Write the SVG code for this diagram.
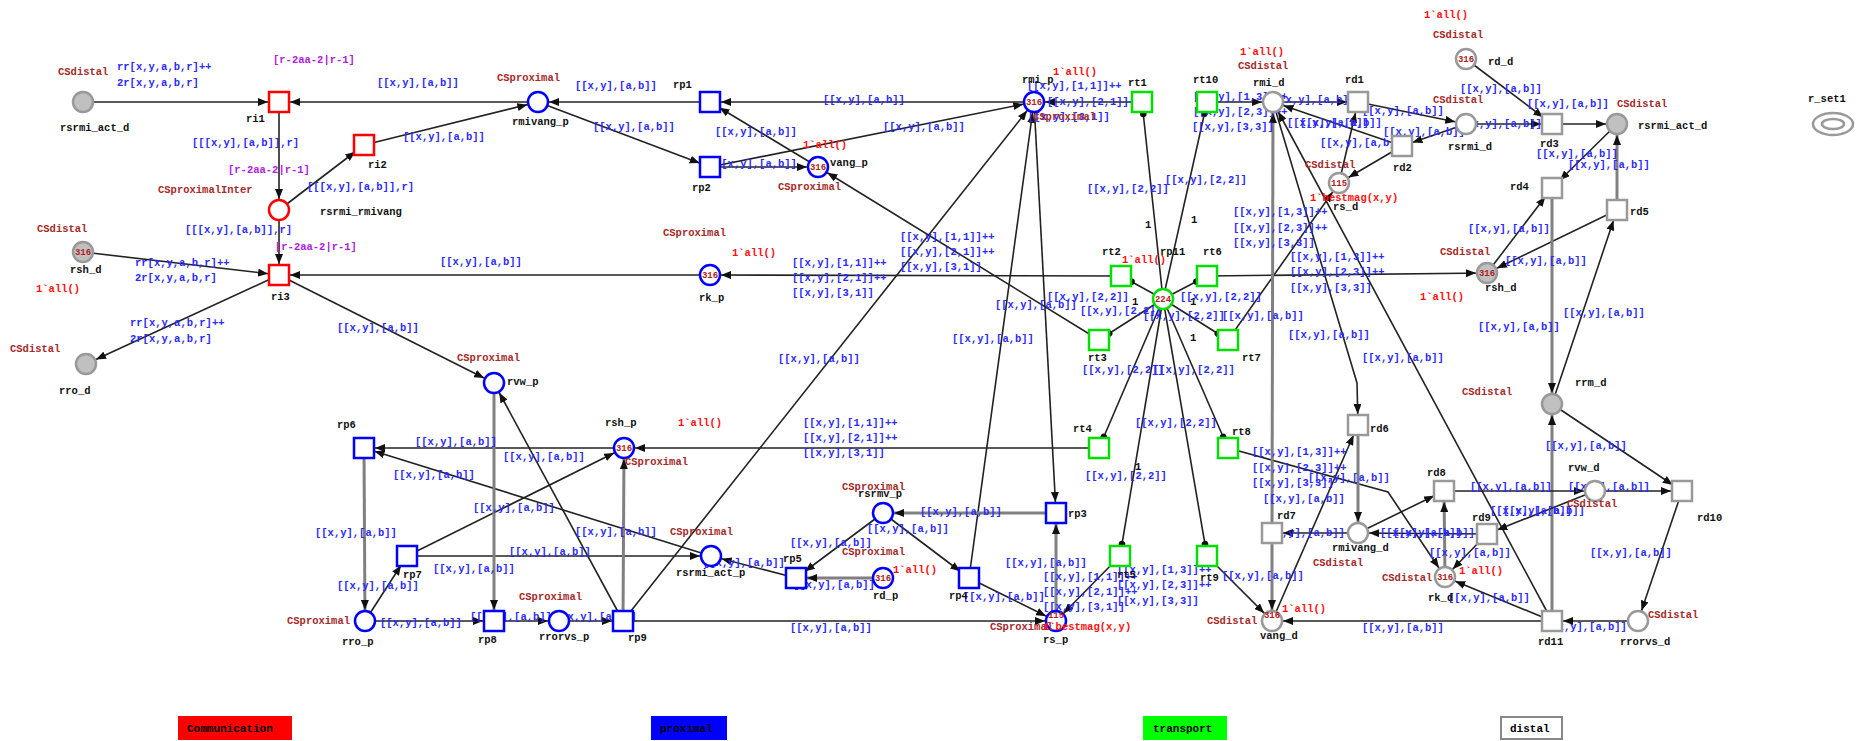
<svg xmlns="http://www.w3.org/2000/svg" width="1862" height="741" viewBox="0 0 1862 741">
<style>
text{font-family:"Liberation Mono","DejaVu Sans Mono",monospace;font-size:10.5px;font-weight:bold}
.n{fill:#111}.i{fill:#2a2aff}.c{fill:#a52a2a}.m{fill:#ff1010}.g{fill:#b020e0}
.k{fill:#b02020;font-size:9px;text-anchor:middle}
.e{stroke:#222;stroke-width:1.6;fill:none;marker-end:url(#a)}
.w{stroke:#808080;stroke-width:3;fill:none;marker-end:url(#a)}
.t{stroke:#222;stroke-width:1.6;fill:none;marker-end:url(#d)}
.pr{fill:#fff;stroke:#ff0000;stroke-width:2.5}
.pb{fill:#fff;stroke:#0000ff;stroke-width:2.5}
.pg{fill:#fff;stroke:#00e000;stroke-width:2.5}
.pd{fill:#fff;stroke:#999;stroke-width:2.5}
.pf{fill:#c0c0c0;stroke:#999;stroke-width:2.5}
.lg{font-size:11px;fill:#000}
</style>
<defs>
<marker id="a" viewBox="0 0 10 8" markerWidth="10" markerHeight="8" refX="21" refY="4" orient="auto" markerUnits="userSpaceOnUse"><path d="M0,0L10,4L0,8z" fill="#111"/></marker>
<marker id="d" viewBox="0 0 8 8" markerWidth="8" markerHeight="8" refX="16" refY="4" orient="auto" markerUnits="userSpaceOnUse"><circle cx="4" cy="4" r="3.3" fill="#111"/></marker>
</defs>
<rect width="1862" height="741" fill="#fff"/>
<g id="connectors">
<path class="e" d="M83,102L279,102"/>
<path class="e" d="M538,102L279,102"/>
<path class="e" d="M279,102L279,210"/>
<path class="e" d="M279,210L364,145"/>
<path class="e" d="M364,145L538,102"/>
<path class="e" d="M279,210L279,275"/>
<path class="e" d="M83,252L279,275"/>
<path class="e" d="M279,275L86,364"/>
<path class="e" d="M710,275L279,275"/>
<path class="e" d="M279,275L494,383"/>
<path class="e" d="M710,102L538,102"/>
<path class="e" d="M1034,102L710,102"/>
<path class="e" d="M538,102L710,167"/>
<path class="e" d="M710,167L818,167"/>
<path class="e" d="M710,167L1034,102"/>
<path class="e" d="M818,167L710,102"/>
<path class="e" d="M1099,340L818,167"/>
<path class="e" d="M1142,102L1034,102"/>
<path class="e" d="M623,621L1034,102"/>
<path class="e" d="M969,578L1034,102"/>
<path class="e" d="M1034,102L1056,513"/>
<path class="e" d="M1121,276L710,275"/>
<path class="e" d="M1099,448L624,448"/>
<path class="e" d="M624,448L364,448"/>
<path class="e" d="M711,556L364,448"/>
<path class="w" d="M364,448L365,621"/>
<path class="e" d="M365,621L407,556"/>
<path class="e" d="M407,556L624,448"/>
<path class="e" d="M407,556L711,556"/>
<path class="e" d="M365,621L494,621"/>
<path class="e" d="M494,621L559,621"/>
<path class="e" d="M559,621L623,621"/>
<path class="w" d="M494,383L494,621"/>
<path class="e" d="M623,621L494,383"/>
<path class="w" d="M623,621L624,448"/>
<path class="e" d="M623,621L1056,621"/>
<path class="e" d="M796,578L711,556"/>
<path class="e" d="M883,513L796,578"/>
<path class="w" d="M883,578L796,578"/>
<path class="w" d="M1056,513L883,513"/>
<path class="e" d="M883,513L969,578"/>
<path class="e" d="M969,578L1056,621"/>
<path class="w" d="M1056,621L1056,513"/>
<path class="e" d="M1120,556L1056,621"/>
<path class="e" d="M1207,556L1272,621"/>
<path class="e" d="M1207,276L1487,273"/>
<path class="e" d="M1228,340L1339,183"/>
<polyline class="e" points="1228,448 1388,492 1445,577"/>
<path class="e" d="M1207,102L1273,102"/>
<path class="e" d="M1273,102L1358,102"/>
<path class="e" d="M1358,102L1466,124"/>
<path class="e" d="M1466,124L1402,146"/>
<path class="e" d="M1402,146L1339,183"/>
<path class="e" d="M1339,183L1358,102"/>
<path class="e" d="M1402,146L1273,102"/>
<path class="e" d="M1466,59L1552,124"/>
<path class="e" d="M1466,124L1552,124"/>
<path class="e" d="M1552,124L1617,124"/>
<path class="e" d="M1617,124L1552,188"/>
<path class="w" d="M1617,210L1617,124"/>
<path class="e" d="M1487,273L1552,188"/>
<path class="e" d="M1617,210L1487,273"/>
<path class="w" d="M1552,188L1552,404"/>
<path class="e" d="M1552,404L1617,210"/>
<path class="w" d="M1552,621L1552,404"/>
<path class="e" d="M1552,404L1682,491"/>
<path class="e" d="M1682,491L1638,621"/>
<path class="e" d="M1638,621L1552,621"/>
<path class="e" d="M1552,621L1445,577"/>
<path class="e" d="M1552,621L1273,102"/>
<path class="e" d="M1595,491L1682,491"/>
<path class="e" d="M1444,491L1595,491"/>
<path class="e" d="M1595,491L1487,534"/>
<path class="e" d="M1487,534L1358,533"/>
<path class="e" d="M1358,533L1272,533"/>
<path class="w" d="M1272,533L1272,621"/>
<path class="w" d="M1272,533L1273,102"/>
<path class="w" d="M1445,577L1444,491"/>
<path class="e" d="M1487,534L1445,577"/>
<path class="e" d="M1358,533L1444,491"/>
<path class="w" d="M1358,425L1358,533"/>
<polyline class="e" points="1273,102 1357,383 1358,425"/>
<path class="e" d="M1272,621L1358,425"/>
<path class="e" d="M1552,621L1272,621"/>
<path class="t" d="M1163,299L1142,102"/>
<path class="t" d="M1163,299L1207,102"/>
<path class="t" d="M1163,299L1121,276"/>
<path class="t" d="M1163,299L1207,276"/>
<path class="t" d="M1163,299L1099,340"/>
<path class="t" d="M1163,299L1228,340"/>
<path class="t" d="M1163,299L1099,448"/>
<path class="t" d="M1163,299L1228,448"/>
<path class="t" d="M1163,299L1120,556"/>
<path class="t" d="M1163,299L1207,556"/>
</g>
<g id="arc-labels">
<text class="i" x="117" y="70">rr[x,y,a,b,r]++</text>
<text class="i" x="117" y="86">2r[x,y,a,b,r]</text>
<text class="g" x="273" y="63">[r-2aa-2|r-1]</text>
<text class="i" x="377" y="86">[[x,y],[a,b]]</text>
<text class="i" x="192" y="146">[[[x,y],[a,b]],r]</text>
<text class="i" x="403" y="140">[[x,y],[a,b]]</text>
<text class="g" x="228" y="173">[r-2aa-2|r-1]</text>
<text class="i" x="307" y="190">[[[x,y],[a,b]],r]</text>
<text class="i" x="185" y="233">[[[x,y],[a,b]],r]</text>
<text class="g" x="275" y="250">[r-2aa-2|r-1]</text>
<text class="i" x="135" y="266">rr[x,y,a,b,r]++</text>
<text class="i" x="135" y="281">2r[x,y,a,b,r]</text>
<text class="i" x="440" y="265">[[x,y],[a,b]]</text>
<text class="i" x="130" y="326">rr[x,y,a,b,r]++</text>
<text class="i" x="130" y="342">2r[x,y,a,b,r]</text>
<text class="i" x="337" y="331">[[x,y],[a,b]]</text>
<text class="i" x="575" y="89">[[x,y],[a,b]]</text>
<text class="i" x="823" y="103">[[x,y],[a,b]]</text>
<text class="i" x="593" y="130">[[x,y],[a,b]]</text>
<text class="i" x="715" y="135">[[x,y],[a,b]]</text>
<text class="i" x="715" y="167">[[x,y],[a,b]]</text>
<text class="i" x="883" y="130">[[x,y],[a,b]]</text>
<text class="i" x="792" y="266">[[x,y],[1,1]]++</text>
<text class="i" x="792" y="281">[[x,y],[2,1]]++</text>
<text class="i" x="792" y="296">[[x,y],[3,1]]</text>
<text class="i" x="900" y="240">[[x,y],[1,1]]++</text>
<text class="i" x="900" y="255">[[x,y],[2,1]]++</text>
<text class="i" x="900" y="270">[[x,y],[3,1]]</text>
<text class="i" x="778" y="362">[[x,y],[a,b]]</text>
<text class="i" x="803" y="426">[[x,y],[1,1]]++</text>
<text class="i" x="803" y="441">[[x,y],[2,1]]++</text>
<text class="i" x="803" y="456">[[x,y],[3,1]]</text>
<text class="i" x="503" y="460">[[x,y],[a,b]]</text>
<text class="i" x="415" y="445">[[x,y],[a,b]]</text>
<text class="i" x="393" y="478">[[x,y],[a,b]]</text>
<text class="i" x="315" y="536">[[x,y],[a,b]]</text>
<text class="i" x="337" y="589">[[x,y],[a,b]]</text>
<text class="i" x="380" y="626">[[x,y],[a,b]]</text>
<text class="i" x="433" y="572">[[x,y],[a,b]]</text>
<text class="i" x="509" y="555">[[x,y],[a,b]]</text>
<text class="i" x="473" y="511">[[x,y],[a,b]]</text>
<text class="i" x="575" y="535">[[x,y],[a,b]]</text>
<text class="i" x="703" y="566">[[x,y],[a,b]]</text>
<text class="i" x="470" y="620">[[x,y],[a,b]]</text>
<text class="i" x="555" y="620">[[x,y],[a,b]]</text>
<text class="i" x="790" y="631">[[x,y],[a,b]]</text>
<text class="i" x="790" y="546">[[x,y],[a,b]]</text>
<text class="i" x="867" y="532">[[x,y],[a,b]]</text>
<text class="i" x="920" y="515">[[x,y],[a,b]]</text>
<text class="i" x="793" y="588">[[x,y],[a,b]]</text>
<text class="i" x="1005" y="566">[[x,y],[a,b]]</text>
<text class="i" x="1043" y="580">[[x,y],[1,1]]++</text>
<text class="i" x="1043" y="595">[[x,y],[2,1]]++</text>
<text class="i" x="1043" y="610">[[x,y],[3,1]]</text>
<text class="i" x="963" y="600">[[x,y],[a,b]]</text>
<text class="i" x="1117" y="573">[[x,y],[1,3]]++</text>
<text class="i" x="1117" y="588">[[x,y],[2,3]]++</text>
<text class="i" x="1117" y="604">[[x,y],[3,3]]</text>
<text class="i" x="1222" y="579">[[x,y],[a,b]]</text>
<text class="i" x="1263" y="502">[[x,y],[a,b]]</text>
<text class="i" x="1263" y="536">[[x,y],[a,b]]</text>
<text class="i" x="1448" y="601">[[x,y],[a,b]]</text>
<text class="i" x="1470" y="490">[[x,y],[a,b]]</text>
<text class="i" x="1568" y="490">[[x,y],[a,b]]</text>
<text class="i" x="1490" y="514">[[x,y],[a,b]]</text>
<text class="i" x="1503" y="514">[[x,y],[a,b]]</text>
<text class="i" x="1380" y="536">[[x,y],[a,b]]</text>
<text class="i" x="1393" y="536">[[x,y],[a,b]]</text>
<text class="i" x="1429" y="556">[[x,y],[a,b]]</text>
<text class="i" x="1590" y="556">[[x,y],[a,b]]</text>
<text class="i" x="1545" y="630">[[x,y],[a,b]]</text>
<text class="i" x="1362" y="631">[[x,y],[a,b]]</text>
<text class="i" x="1460" y="92">[[x,y],[a,b]]</text>
<text class="i" x="1527" y="107">[[x,y],[a,b]]</text>
<text class="i" x="1536" y="157">[[x,y],[a,b]]</text>
<text class="i" x="1568" y="168">[[x,y],[a,b]]</text>
<text class="i" x="1468" y="232">[[x,y],[a,b]]</text>
<text class="i" x="1383" y="135">[[x,y],[a,b]]</text>
<text class="i" x="1460" y="127">[[x,y],[a,b]]</text>
<text class="i" x="1362" y="114">[[x,y],[a,b]]</text>
<text class="i" x="1320" y="146">[[x,y],[a,b]]</text>
<text class="i" x="1505" y="264">[[x,y],[a,b]]</text>
<text class="i" x="1563" y="316">[[x,y],[a,b]]</text>
<text class="i" x="1478" y="330">[[x,y],[a,b]]</text>
<text class="i" x="1362" y="361">[[x,y],[a,b]]</text>
<text class="i" x="1545" y="449">[[x,y],[a,b]]</text>
<text class="i" x="1027" y="89">[[x,y],[1,1]]++</text>
<text class="i" x="1047" y="105">[[x,y],[2,1]]++</text>
<text class="i" x="1028" y="120">[[x,y],[3,1]]</text>
<text class="i" x="1193" y="100">[[x,y],[1,3]]++</text>
<text class="i" x="1193" y="115">[[x,y],[2,3]]++</text>
<text class="i" x="1192" y="130">[[x,y],[3,3]]</text>
<text class="i" x="1273" y="103">[[x,y],[a,b]]</text>
<text class="i" x="1287" y="126">[[x,y],[a,b]]</text>
<text class="i" x="1300" y="126">[[x,y],[a,b]]</text>
<text class="i" x="1087" y="192">[[x,y],[2,2]]</text>
<text class="i" x="1165" y="183">[[x,y],[2,2]]</text>
<text class="n" x="1145" y="228">1</text>
<text class="n" x="1191" y="223">1</text>
<text class="i" x="1233" y="215">[[x,y],[1,3]]++</text>
<text class="i" x="1233" y="231">[[x,y],[2,3]]++</text>
<text class="i" x="1233" y="246">[[x,y],[3,3]]</text>
<text class="i" x="1290" y="260">[[x,y],[1,3]]++</text>
<text class="i" x="1290" y="275">[[x,y],[2,3]]++</text>
<text class="i" x="1290" y="291">[[x,y],[3,3]]</text>
<text class="n" x="1132" y="305">1</text>
<text class="n" x="1190" y="305">1</text>
<text class="n" x="1190" y="341">1</text>
<text class="n" x="1135" y="470">1</text>
<text class="i" x="1047" y="300">[[x,y],[2,2]]</text>
<text class="i" x="995" y="308">[[x,y],[a,b]]</text>
<text class="i" x="1080" y="314">[[x,y],[2,2]]</text>
<text class="i" x="1180" y="300">[[x,y],[2,2]]</text>
<text class="i" x="1143" y="319">[[x,y],[2,2]]</text>
<text class="i" x="1222" y="319">[[x,y],[a,b]]</text>
<text class="i" x="952" y="342">[[x,y],[a,b]]</text>
<text class="i" x="1082" y="373">[[x,y],[2,2]]</text>
<text class="i" x="1153" y="373">[[x,y],[2,2]]</text>
<text class="i" x="1288" y="338">[[x,y],[a,b]]</text>
<text class="i" x="1135" y="426">[[x,y],[2,2]]</text>
<text class="i" x="1085" y="479">[[x,y],[2,2]]</text>
<text class="i" x="1252" y="455">[[x,y],[1,3]]++</text>
<text class="i" x="1252" y="471">[[x,y],[2,3]]++</text>
<text class="i" x="1252" y="486">[[x,y],[3,3]]</text>
<text class="i" x="1308" y="481">[[x,y],[a,b]]</text>
</g>
<g id="rsrmi_act_d_l"><circle class="pf" cx="83" cy="102" r="10"/><text class="c" x="58" y="75">CSdistal</text><text class="n" x="60" y="131">rsrmi_act_d</text></g>
<g id="ri1"><rect class="pr" x="269" y="92" width="20" height="20"/><text class="n" x="246" y="122">ri1</text></g>
<g id="ri2"><rect class="pr" x="354" y="135" width="20" height="20"/><text class="n" x="368" y="168">ri2</text></g>
<g id="rsrmi_rmivang"><circle class="pr" cx="279" cy="210" r="10"/><text class="c" x="158" y="193">CSproximalInter</text><text class="n" x="320" y="215">rsrmi_rmivang</text></g>
<g id="ri3"><rect class="pr" x="269" y="265" width="20" height="20"/><text class="n" x="271" y="300">ri3</text></g>
<g id="rsh_d_l"><circle class="pf" cx="83" cy="252" r="10"/><text class="k" x="83" y="255">316</text><text class="c" x="37" y="232">CSdistal</text><text class="n" x="70" y="273">rsh_d</text><text class="m" x="36" y="292">1`all()</text></g>
<g id="rro_d"><circle class="pf" cx="86" cy="364" r="10"/><text class="c" x="10" y="352">CSdistal</text><text class="n" x="59" y="394">rro_d</text></g>
<g id="rmivang_p"><circle class="pb" cx="538" cy="102" r="10"/><text class="c" x="497" y="81">CSproximal</text><text class="n" x="512" y="125">rmivang_p</text></g>
<g id="rp1"><rect class="pb" x="700" y="92" width="20" height="20"/><text class="n" x="673" y="88">rp1</text></g>
<g id="rp2"><rect class="pb" x="700" y="157" width="20" height="20"/><text class="n" x="692" y="191">rp2</text></g>
<g id="vang_p"><circle class="pb" cx="818" cy="167" r="10"/><text class="k" x="818" y="170">316</text><text class="m" x="803" y="148">1`all()</text><text class="n" x="830" y="166">vang_p</text><text class="c" x="778" y="190">CSproximal</text></g>
<g id="rmi_p"><circle class="pb" cx="1034" cy="102" r="10"/><text class="k" x="1034" y="105">316</text><text class="m" x="1053" y="75">1`all()</text><text class="n" x="1022" y="83">rmi_p</text><text class="c" x="1033" y="120">CSproximal</text></g>
<g id="rk_p"><circle class="pb" cx="710" cy="275" r="10"/><text class="k" x="710" y="278">316</text><text class="c" x="663" y="236">CSproximal</text><text class="m" x="732" y="256">1`all()</text><text class="n" x="699" y="301">rk_p</text></g>
<g id="rvw_p"><circle class="pb" cx="494" cy="383" r="10"/><text class="c" x="457" y="361">CSproximal</text><text class="n" x="507" y="385">rvw_p</text></g>
<g id="rsh_p"><circle class="pb" cx="624" cy="448" r="10"/><text class="k" x="624" y="451">316</text><text class="n" x="605" y="426">rsh_p</text><text class="m" x="678" y="426">1`all()</text><text class="c" x="625" y="465">CSproximal</text></g>
<g id="rp6"><rect class="pb" x="354" y="438" width="20" height="20"/><text class="n" x="337" y="428">rp6</text></g>
<g id="rp7"><rect class="pb" x="397" y="546" width="20" height="20"/><text class="n" x="403" y="578">rp7</text></g>
<g id="rro_p"><circle class="pb" cx="365" cy="621" r="10"/><text class="c" x="287" y="624">CSproximal</text><text class="n" x="342" y="645">rro_p</text></g>
<g id="rp8"><rect class="pb" x="484" y="611" width="20" height="20"/><text class="n" x="478" y="643">rp8</text></g>
<g id="rrorvs_p"><circle class="pb" cx="559" cy="621" r="10"/><text class="c" x="519" y="600">CSproximal</text><text class="n" x="539" y="640">rrorvs_p</text></g>
<g id="rp9"><rect class="pb" x="613" y="611" width="20" height="20"/><text class="n" x="628" y="641">rp9</text></g>
<g id="rsrmi_act_p"><circle class="pb" cx="711" cy="556" r="10"/><text class="c" x="670" y="535">CSproximal</text><text class="n" x="676" y="576">rsrmi_act_p</text></g>
<g id="rp5"><rect class="pb" x="786" y="568" width="20" height="20"/><text class="n" x="783" y="562">rp5</text></g>
<g id="rsrmv_p"><circle class="pb" cx="883" cy="513" r="10"/><text class="c" x="842" y="490">CSproximal</text><text class="n" x="858" y="497">rsrmv_p</text></g>
<g id="rd_p"><circle class="pb" cx="883" cy="578" r="10"/><text class="k" x="883" y="581">316</text><text class="c" x="842" y="555">CSproximal</text><text class="m" x="893" y="573">1`all()</text><text class="n" x="873" y="599">rd_p</text></g>
<g id="rp3"><rect class="pb" x="1046" y="503" width="20" height="20"/><text class="n" x="1068" y="517">rp3</text></g>
<g id="rp4"><rect class="pb" x="959" y="568" width="20" height="20"/><text class="n" x="949" y="599">rp4</text></g>
<g id="rs_p"><circle class="pb" cx="1056" cy="621" r="10"/><text class="k" x="1056" y="618">115</text><text class="c" x="990" y="630">CSproximal</text><text class="m" x="1043" y="630">1`bestmag(x,y)</text><text class="n" x="1043" y="643">rs_p</text></g>
<g id="rt1"><rect class="pg" x="1132" y="92" width="20" height="20"/><text class="n" x="1128" y="86">rt1</text></g>
<g id="rt10"><rect class="pg" x="1197" y="92" width="20" height="20"/><text class="n" x="1193" y="83">rt10</text></g>
<g id="rt2"><rect class="pg" x="1111" y="266" width="20" height="20"/><text class="n" x="1102" y="255">rt2</text></g>
<g id="rt6"><rect class="pg" x="1197" y="266" width="20" height="20"/><text class="n" x="1203" y="255">rt6</text></g>
<g id="rt3"><rect class="pg" x="1089" y="330" width="20" height="20"/><text class="n" x="1088" y="361">rt3</text></g>
<g id="rt7"><rect class="pg" x="1218" y="330" width="20" height="20"/><text class="n" x="1242" y="361">rt7</text></g>
<g id="rt4"><rect class="pg" x="1089" y="438" width="20" height="20"/><text class="n" x="1073" y="432">rt4</text></g>
<g id="rt8"><rect class="pg" x="1218" y="438" width="20" height="20"/><text class="n" x="1232" y="435">rt8</text></g>
<g id="rt5"><rect class="pg" x="1110" y="546" width="20" height="20"/><text class="n" x="1117" y="578">rt5</text></g>
<g id="rt9"><rect class="pg" x="1197" y="546" width="20" height="20"/><text class="n" x="1200" y="581">rt9</text></g>
<g id="rp11"><circle class="pg" cx="1163" cy="299" r="10"/><text class="k" x="1163" y="302">224</text><text class="n" x="1160" y="255">rp11</text><text class="m" x="1122" y="263">1`all()</text></g>
<g id="rmi_d"><circle class="pd" cx="1273" cy="102" r="10"/><text class="m" x="1240" y="55">1`all()</text><text class="c" x="1238" y="69">CSdistal</text><text class="n" x="1253" y="86">rmi_d</text></g>
<g id="rd1"><rect class="pd" x="1348" y="92" width="20" height="20"/><text class="n" x="1345" y="83">rd1</text></g>
<g id="rs_d"><circle class="pd" cx="1339" cy="183" r="10"/><text class="k" x="1339" y="186">115</text><text class="c" x="1305" y="168">CSdistal</text><text class="m" x="1310" y="201">1`bestmag(x,y)</text><text class="n" x="1333" y="210">rs_d</text></g>
<g id="rd_d"><circle class="pd" cx="1466" cy="59" r="10"/><text class="k" x="1466" y="62">316</text><text class="m" x="1424" y="18">1`all()</text><text class="c" x="1433" y="38">CSdistal</text><text class="n" x="1488" y="65">rd_d</text></g>
<g id="rsrmi_d"><circle class="pd" cx="1466" cy="124" r="10"/><text class="c" x="1433" y="103">CSdistal</text><text class="n" x="1448" y="150">rsrmi_d</text></g>
<g id="rd2"><rect class="pd" x="1392" y="136" width="20" height="20"/><text class="n" x="1393" y="171">rd2</text></g>
<g id="rd3"><rect class="pd" x="1542" y="114" width="20" height="20"/><text class="n" x="1540" y="147">rd3</text></g>
<g id="rsrmi_act_d_r"><circle class="pf" cx="1617" cy="124" r="10"/><text class="c" x="1617" y="107">CSdistal</text><text class="n" x="1638" y="129">rsrmi_act_d</text></g>
<g id="r_set1"><ellipse cx="1833" cy="124" rx="20" ry="11" fill="#fff" stroke="#999" stroke-width="2.5"/><ellipse cx="1833" cy="124" rx="11" ry="5" fill="none" stroke="#999" stroke-width="2.5"/><text class="n" x="1808" y="102">r_set1</text></g>
<g id="rd4"><rect class="pd" x="1542" y="178" width="20" height="20"/><text class="n" x="1510" y="190">rd4</text></g>
<g id="rd5"><rect class="pd" x="1607" y="200" width="20" height="20"/><text class="n" x="1630" y="215">rd5</text></g>
<g id="rsh_d_r"><circle class="pf" cx="1487" cy="273" r="10"/><text class="k" x="1487" y="276">316</text><text class="c" x="1440" y="255">CSdistal</text><text class="n" x="1485" y="291">rsh_d</text><text class="m" x="1420" y="300">1`all()</text></g>
<g id="rrm_d"><circle class="pf" cx="1552" cy="404" r="10"/><text class="c" x="1462" y="395">CSdistal</text><text class="n" x="1575" y="386">rrm_d</text></g>
<g id="rd6"><rect class="pd" x="1348" y="415" width="20" height="20"/><text class="n" x="1370" y="432">rd6</text></g>
<g id="rd8"><rect class="pd" x="1434" y="481" width="20" height="20"/><text class="n" x="1427" y="476">rd8</text></g>
<g id="rvw_d"><circle class="pd" cx="1595" cy="491" r="10"/><text class="n" x="1568" y="471">rvw_d</text><text class="c" x="1567" y="507">CSdistal</text></g>
<g id="rd10"><rect class="pd" x="1672" y="481" width="20" height="20"/><text class="n" x="1697" y="521">rd10</text></g>
<g id="rd9"><rect class="pd" x="1477" y="524" width="20" height="20"/><text class="n" x="1472" y="521">rd9</text></g>
<g id="rd7"><rect class="pd" x="1262" y="523" width="20" height="20"/><text class="n" x="1277" y="519">rd7</text></g>
<g id="rmivang_d"><circle class="pd" cx="1358" cy="533" r="10"/><text class="n" x="1332" y="551">rmivang_d</text><text class="c" x="1313" y="566">CSdistal</text></g>
<g id="rk_d"><circle class="pd" cx="1445" cy="577" r="10"/><text class="k" x="1445" y="580">316</text><text class="c" x="1382" y="581">CSdistal</text><text class="m" x="1459" y="574">1`all()</text><text class="n" x="1428" y="601">rk_d</text></g>
<g id="rd11"><rect class="pd" x="1542" y="611" width="20" height="20"/><text class="n" x="1538" y="645">rd11</text></g>
<g id="rrorvs_d"><circle class="pd" cx="1638" cy="621" r="10"/><text class="c" x="1648" y="618">CSdistal</text><text class="n" x="1620" y="645">rrorvs_d</text></g>
<g id="vang_d"><circle class="pd" cx="1272" cy="621" r="10"/><text class="k" x="1272" y="618">316</text><text class="m" x="1282" y="612">1`all()</text><text class="c" x="1207" y="624">CSdistal</text><text class="n" x="1260" y="639">vang_d</text></g>
<g id="legend">
<rect x="178" y="716" width="114" height="24" fill="#ff0000"/><text class="lg" x="187" y="732">Communication</text>
<rect x="651" y="716" width="76" height="24" fill="#0000ff"/><text class="lg" x="660" y="732">proximal</text>
<rect x="1143" y="716" width="84" height="24" fill="#00ff00"/><text class="lg" x="1153" y="732">transport</text>
<rect x="1501" y="717" width="61" height="22" fill="#fff" stroke="#888" stroke-width="2"/><text class="lg" x="1510" y="732">distal</text>
</g>
</svg>
